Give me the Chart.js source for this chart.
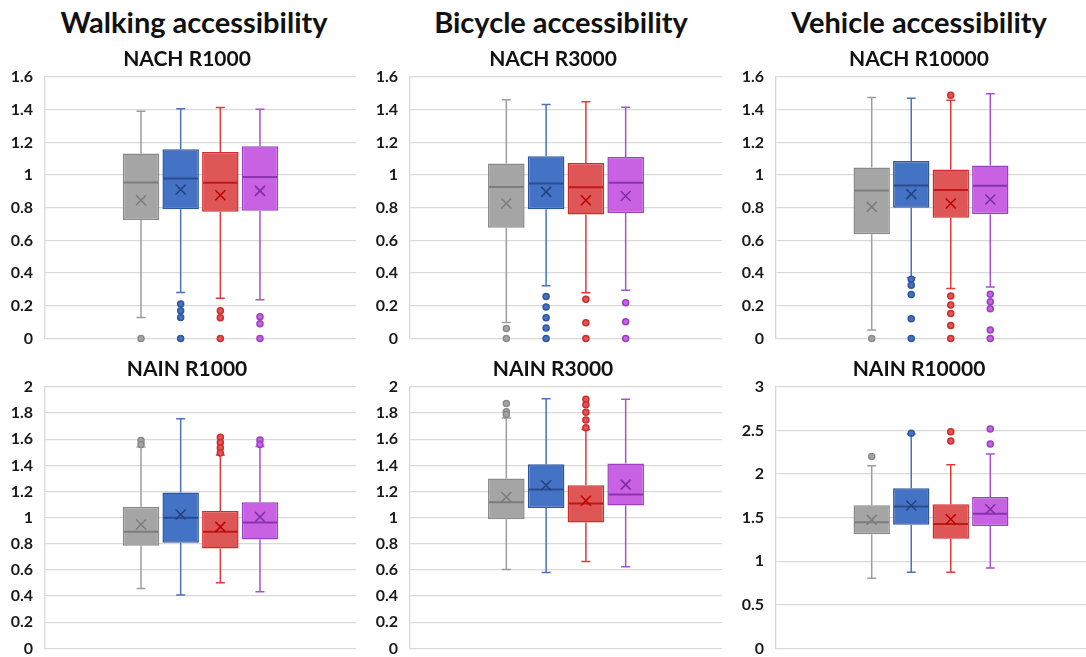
<!DOCTYPE html>
<html><head><meta charset="utf-8">
<script src="https://cdn.jsdelivr.net/npm/chart.js@4.4.1/dist/chart.umd.min.js"></script>
<style>
body{margin:0;background:#fff;width:1086px;height:657px;overflow:hidden;position:relative;font-family:Lato,sans-serif}
.h{position:absolute;font-family:Lato;font-weight:bold;color:#111;white-space:nowrap;transform:translate(-50%,-50%);z-index:2}
.h.col{font-size:29px;line-height:34px}
.h.sub{font-size:21px;line-height:26px}
canvas{position:absolute}
</style></head><body>
<div class="h col" id="h0" style="left:194px;top:22px"></div>
<div class="h col" id="h1" style="left:561px;top:22px"></div>
<div class="h col" id="h2" style="left:919px;top:22px"></div>
<div class="h sub" id="s0" style="left:187px;top:58px"></div>
<div class="h sub" id="s1" style="left:553px;top:58px"></div>
<div class="h sub" id="s2" style="left:919px;top:58px"></div>
<div class="h sub" id="s3" style="left:187px;top:368px"></div>
<div class="h sub" id="s4" style="left:553px;top:368px"></div>
<div class="h sub" id="s5" style="left:919px;top:368px"></div>
<canvas id="c0" width="356" height="320" style="left:0px;top:40px"></canvas>
<canvas id="c1" width="357" height="320" style="left:365px;top:40px"></canvas>
<canvas id="c2" width="355" height="320" style="left:731px;top:40px"></canvas>
<canvas id="c3" width="356" height="320" style="left:0px;top:350px"></canvas>
<canvas id="c4" width="357" height="320" style="left:365px;top:350px"></canvas>
<canvas id="c5" width="355" height="320" style="left:731px;top:350px"></canvas>
<script>
const columnTitles = ['Walking accessibility', 'Bicycle accessibility', 'Vehicle accessibility'];
const panelTitles = ['NACH R1000', 'NACH R3000', 'NACH R10000', 'NAIN R1000', 'NAIN R3000', 'NAIN R10000'];
const seriesNames = ['Series 1', 'Series 2', 'Series 3', 'Series 4'];

const ticksNACH = [0, 0.2, 0.4, 0.6, 0.8, 1, 1.2, 1.4, 1.6];
const ticksNAIN = [0, 0.2, 0.4, 0.6, 0.8, 1, 1.2, 1.4, 1.6, 1.8, 2];
const ticksNAIN10k = [0, 0.5, 1, 1.5, 2, 2.5, 3];

// NACH R1000
const nach1000Min = [0.128, 0.281, 0.245, 0.236];
const nach1000Q1 = [0.724, 0.791, 0.775, 0.781];
const nach1000Med = [0.954, 0.978, 0.952, 0.988];
const nach1000Q3 = [1.131, 1.158, 1.141, 1.176];
const nach1000Max = [1.390, 1.406, 1.413, 1.402];
const nach1000Mean = [0.846, 0.911, 0.876, 0.903];
const nach1000Out = [[0], [0.21, 0.169, 0.128, 0], [0.169, 0.126, 0], [0.132, 0.09, 0]];

// NACH R3000
const nach3000Min = [0.098, 0.322, 0.279, 0.294];
const nach3000Q1 = [0.677, 0.791, 0.758, 0.768];
const nach3000Med = [0.927, 0.948, 0.925, 0.952];
const nach3000Q3 = [1.070, 1.115, 1.074, 1.111];
const nach3000Max = [1.461, 1.431, 1.449, 1.415];
const nach3000Mean = [0.826, 0.897, 0.846, 0.872];
const nach3000Out = [[0.061, 0], [0.257, 0.192, 0.126, 0.063, 0], [0.240, 0.096, 0], [0.218, 0.102, 0]];

// NACH R10000
const nach10000Min = [0.051, 0.371, 0.306, 0.314];
const nach10000Q1 = [0.638, 0.799, 0.738, 0.760];
const nach10000Med = [0.905, 0.936, 0.909, 0.934];
const nach10000Q3 = [1.046, 1.086, 1.034, 1.058];
const nach10000Max = [1.474, 1.470, 1.457, 1.498];
const nach10000Mean = [0.805, 0.883, 0.826, 0.850];
const nach10000Out = [[0], [0.362, 0.326, 0.269, 0.120, 0], [1.488, 0.259, 0.204, 0.153, 0.079, 0], [0.271, 0.224, 0.181, 0.051, 0]];

// NAIN R1000
const nain1000Min = [0.459, 0.408, 0.502, 0.433];
const nain1000Q1 = [0.785, 0.808, 0.764, 0.833];
const nain1000Med = [0.892, 0.999, 0.892, 0.963];
const nain1000Q3 = [1.083, 1.192, 1.052, 1.118];
const nain1000Max = [1.540, 1.758, 1.480, 1.545];
const nain1000Mean = [0.948, 1.024, 0.930, 1.006];
const nain1000Out = [[1.59, 1.56], [], [1.615, 1.575, 1.535, 1.495], [1.595, 1.56]];

// NAIN R3000
const nain3000Min = [0.604, 0.581, 0.665, 0.624];
const nain3000Q1 = [0.988, 1.075, 0.963, 1.093];
const nain3000Med = [1.118, 1.215, 1.108, 1.177];
const nain3000Q3 = [1.299, 1.409, 1.248, 1.414];
const nain3000Max = [1.763, 1.911, 1.674, 1.906];
const nain3000Mean = [1.159, 1.248, 1.129, 1.253];
const nain3000Out = [[1.873, 1.81, 1.79], [], [1.906, 1.865, 1.806, 1.748, 1.689], []];

// NAIN R10000
const nain10000Min = [0.805, 0.874, 0.874, 0.923];
const nain10000Q1 = [1.310, 1.418, 1.257, 1.406];
const nain10000Med = [1.448, 1.628, 1.429, 1.544];
const nain10000Q3 = [1.644, 1.839, 1.655, 1.739];
const nain10000Max = [2.096, 2.460, 2.107, 2.230];
const nain10000Mean = [1.475, 1.640, 1.483, 1.598];
const nain10000Out = [[2.203], [2.47], [2.487, 2.379], [2.517, 2.345]];

const fills = ['#a5a5a5', '#4472c4', '#df5656', '#c862e2'];
const borders = ['#8a8a8a', '#2f56a0', '#d22b2b', '#9a40c0'];
const whiskerColors = ['#9d9d9d', '#4a72bf', '#e03a3a', '#a452d2'];
const medianColors = ['#7c7c7c', '#2a4d8f', '#c01818', '#8a34b0'];
const meanColors = ['#7c7c7c', '#23427c', '#c00000', '#7e2ca6'];

columnTitles.forEach((t, i) => { document.getElementById('h' + i).textContent = t; });
panelTitles.forEach((t, i) => { document.getElementById('s' + i).textContent = t; });

function makeBoxPlugin(st) {
  return {
    id: 'boxWhisker',
    afterDatasetsDraw(chart) {
      const ctx = chart.ctx;
      const y = chart.scales.y;
      chart.data.datasets.forEach((ds, i) => {
        const bar = chart.getDatasetMeta(i).data[0];
        if (!bar) return;
        const x = bar.x, w = bar.width;
        const cap = 4.5;
        ctx.save();
        ctx.strokeStyle = whiskerColors[i];
        ctx.lineWidth = 1.5;
        ctx.beginPath();
        ctx.moveTo(x, y.getPixelForValue(st.q3[i]));
        ctx.lineTo(x, y.getPixelForValue(st.max[i]));
        ctx.moveTo(x - cap, y.getPixelForValue(st.max[i]));
        ctx.lineTo(x + cap, y.getPixelForValue(st.max[i]));
        ctx.moveTo(x, y.getPixelForValue(st.q1[i]));
        ctx.lineTo(x, y.getPixelForValue(st.min[i]));
        ctx.moveTo(x - cap, y.getPixelForValue(st.min[i]));
        ctx.lineTo(x + cap, y.getPixelForValue(st.min[i]));
        ctx.stroke();
        ctx.strokeStyle = medianColors[i];
        ctx.lineWidth = 2;
        ctx.beginPath();
        const ym = y.getPixelForValue(st.med[i]);
        ctx.moveTo(x - w / 2 + 1, ym);
        ctx.lineTo(x + w / 2 - 1, ym);
        ctx.stroke();
        const ya = y.getPixelForValue(st.mean[i]);
        const s = 5;
        ctx.strokeStyle = meanColors[i];
        ctx.lineWidth = 1.5;
        ctx.beginPath();
        ctx.moveTo(x - s, ya - s); ctx.lineTo(x + s, ya + s);
        ctx.moveTo(x - s, ya + s); ctx.lineTo(x + s, ya - s);
        ctx.stroke();
        ctx.fillStyle = fills[i];
        ctx.strokeStyle = borders[i];
        ctx.lineWidth = 1.5;
        st.out[i].forEach(v => {
          ctx.beginPath();
          ctx.arc(x, y.getPixelForValue(v), 3, 0, Math.PI * 2);
          ctx.fill();
          ctx.stroke();
        });
        ctx.restore();
      });
    }
  };
}

function makeChart(id, ticks, st) {
  return new Chart(document.getElementById(id), {
    type: 'bar',
    data: {
      labels: [''],
      datasets: seriesNames.map((n, i) => ({
        label: n,
        data: [[st.q1[i], st.q3[i]]],
        backgroundColor: fills[i],
        borderColor: borders[i],
        borderWidth: 1.5,
        borderSkipped: false,
        categoryPercentage: 0.51,
        barPercentage: 0.92
      }))
    },
    options: {
      responsive: false,
      animation: false,
      devicePixelRatio: 1,
      layout: { padding: { left: 0, right: 0, top: 37, bottom: 0 } },
      plugins: {
        legend: { display: false },
        tooltip: { enabled: false },
        title: { display: false }
      },
      scales: {
        x: { display: false },
        y: {
          min: ticks[0], max: ticks[ticks.length - 1],
          afterFit(s) { s.width = 45; },
          afterBuildTicks(s) { s.ticks = ticks.map(v => ({ value: v })); },
          ticks: {
            font: { family: 'Lato', size: 16, weight: 'bold' },
            color: '#1a1a1a', padding: 12,
            callback: (v) => String(v)
          },
          grid: { color: '#d9d9d9', lineWidth: 1.3, drawTicks: false },
          border: { display: true, color: '#d9d9d9', width: 1.3 }
        }
      }
    },
    plugins: [makeBoxPlugin(st)]
  });
}

makeChart('c0', ticksNACH, { min: nach1000Min, q1: nach1000Q1, med: nach1000Med, q3: nach1000Q3, max: nach1000Max, mean: nach1000Mean, out: nach1000Out });
makeChart('c1', ticksNACH, { min: nach3000Min, q1: nach3000Q1, med: nach3000Med, q3: nach3000Q3, max: nach3000Max, mean: nach3000Mean, out: nach3000Out });
makeChart('c2', ticksNACH, { min: nach10000Min, q1: nach10000Q1, med: nach10000Med, q3: nach10000Q3, max: nach10000Max, mean: nach10000Mean, out: nach10000Out });
makeChart('c3', ticksNAIN, { min: nain1000Min, q1: nain1000Q1, med: nain1000Med, q3: nain1000Q3, max: nain1000Max, mean: nain1000Mean, out: nain1000Out });
makeChart('c4', ticksNAIN, { min: nain3000Min, q1: nain3000Q1, med: nain3000Med, q3: nain3000Q3, max: nain3000Max, mean: nain3000Mean, out: nain3000Out });
makeChart('c5', ticksNAIN10k, { min: nain10000Min, q1: nain10000Q1, med: nain10000Med, q3: nain10000Q3, max: nain10000Max, mean: nain10000Mean, out: nain10000Out });
</script>
</body></html>
